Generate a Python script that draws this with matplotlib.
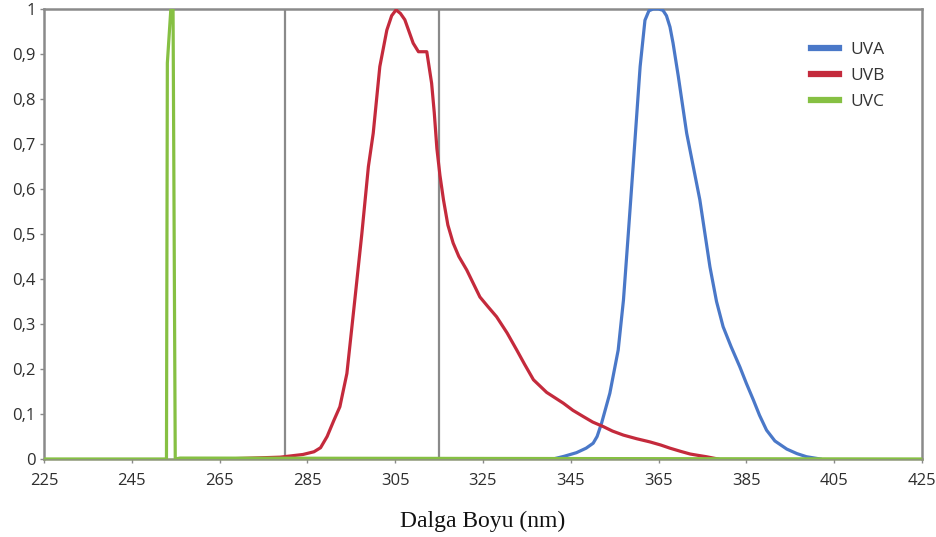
import matplotlib
matplotlib.use("Agg")
import matplotlib.pyplot as plt
import numpy as np

plt.rcParams['font.family'] = ['Open Sans', 'DejaVu Sans']

# wavelength (nm) / relative intensity
uva_x = [341.0, 343.5, 346.3, 348.5, 350.1, 351.0, 352.0, 353.9, 355.8, 357.0, 358.1,
         359.2, 360.8, 361.9, 362.8, 363.8, 365.0, 366.0, 366.8, 367.6, 368.3, 369.5,
         371.4, 372.8, 374.4, 376.7, 378.2, 379.7, 381.5, 383.5, 385.0, 386.6, 388.0,
         389.6, 391.5, 394.2, 396.5, 398.7, 401.8]
uva_y = [0.0, 0.006, 0.014, 0.024, 0.035, 0.05, 0.079, 0.146, 0.242, 0.353, 0.50,
         0.65, 0.872, 0.975, 0.996, 1.0, 1.0, 0.997, 0.985, 0.96, 0.924, 0.85,
         0.724, 0.655, 0.576, 0.427, 0.35, 0.294, 0.25, 0.205, 0.168, 0.131, 0.097,
         0.064, 0.04, 0.022, 0.012, 0.005, 0.0]

uvb_x = [266, 278.8, 284.0, 286.5, 288.0, 289.5, 291.0, 292.4, 294.0, 295.8, 297.4,
         298.9, 300.0, 301.5, 303.1, 304.2, 305.2, 306.2, 307.2, 309.1, 310.3, 312.2,
         313.3, 313.9, 314.5, 315.2, 316.0, 317.0, 318.2, 319.5, 321.3, 322.8, 324.3,
         326.0, 328.1, 330.5, 332.7, 334.5, 336.5, 339.5, 343.3, 345.5, 347.9, 350.0,
         352.4, 354.5, 357.0, 360.0, 363.0, 365.5, 367.6, 370.0, 372.2, 374.0, 375.9,
         378.5]
uvb_y = [0, 0.004, 0.01, 0.016, 0.025, 0.05, 0.085, 0.116, 0.19, 0.353, 0.50,
         0.65, 0.724, 0.872, 0.953, 0.985, 0.998, 0.99, 0.976, 0.924, 0.905, 0.905,
         0.835, 0.77, 0.69, 0.63, 0.576, 0.52, 0.48, 0.45, 0.42, 0.39, 0.36,
         0.34, 0.316, 0.28, 0.242, 0.21, 0.176, 0.148, 0.124, 0.108, 0.094, 0.082,
         0.072, 0.062, 0.053, 0.045, 0.038, 0.031, 0.024, 0.017, 0.011, 0.008, 0.005,
         0.0]

uvc_x = [225, 252.9, 253.1, 253.9, 254.4, 254.9, 256.0, 425]
uvc_y = [0, 0, 0.88, 1.0, 1.0, 0.0, 0.002, 0]

uvb_bounds = [280, 315]

x_ticks = list(range(225, 426, 20))
y_ticks = [round(v * 0.1, 1) for v in range(11)]

fig = plt.figure(figsize=(9.36, 5.37), dpi=100)
ax = fig.add_axes([0.047, 0.1453, 0.938, 0.838])

for b in uvb_bounds:
    ax.axvline(b, color="#8a8a8a", lw=1.6, zorder=1)

ax.plot(uva_x, uva_y, color="#4a78c8", lw=2.3, label="UVA", zorder=3)
ax.plot(uvb_x, uvb_y, color="#c42a3c", lw=2.3, label="UVB", zorder=3)
ax.plot(uvc_x, uvc_y, color="#86c043", lw=2.3, label="UVC", zorder=3)

ax.set_xlim(225, 425)
ax.set_ylim(0, 1)
ax.set_xticks(x_ticks)
ax.set_yticks(y_ticks)
ax.set_yticklabels([("%g" % v).replace(".", ",") for v in y_ticks])

for s in ax.spines.values():
    s.set_color("#8a8a8a")
    s.set_linewidth(1.8)
ax.spines["bottom"].set_color("#8d9877")
ax.tick_params(length=3, width=1, color="#8a8a8a", labelsize=12, labelcolor="#2e2e2e", pad=3)
ax.tick_params(axis="x", pad=7)

ax.set_xlabel("Dalga Boyu (nm)", family="Liberation Serif", fontsize=17, color="#111111", labelpad=16)

leg = ax.legend(loc="upper left", bbox_to_anchor=(0.874, 0.926), frameon=False,
                borderaxespad=0, borderpad=0, fontsize=12.5,
                handlelength=1.6, handletextpad=0.65, labelspacing=0.55)
for t in leg.get_texts():
    t.set_color("#333333")
for h in leg.get_lines():
    h.set_linewidth(4.5)

fig.savefig("out.png", dpi=100)
